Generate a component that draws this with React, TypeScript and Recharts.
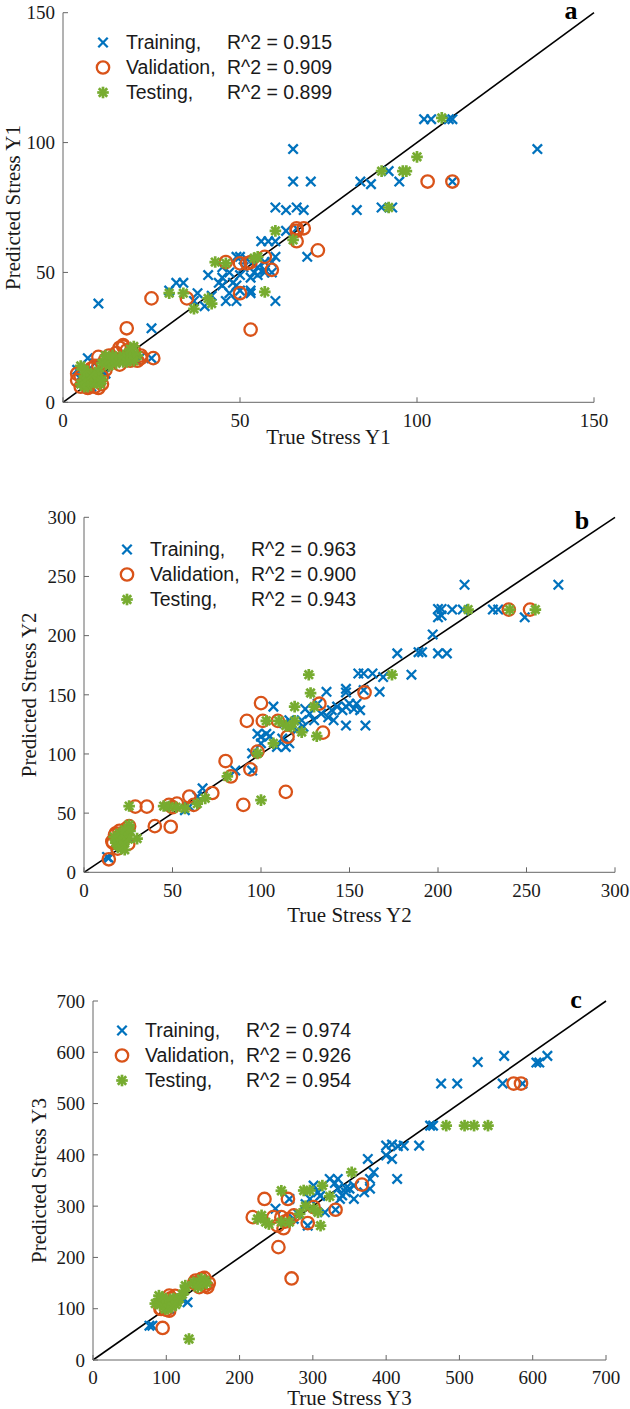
import React from 'react';
import { ScatterChart, Scatter, XAxis, YAxis, ReferenceLine, Legend } from 'recharts';

type Pt = [number, number];

// ---- panel a (Y1) ----
const TRAIN_A: Pt[] = [
    [10, 38], [102, 109], [104, 109], [109, 109], [110, 109], [134, 97.5], [65, 97.5], [65, 85], [70, 85],
    [84, 85], [87, 84], [92, 89], [95, 85], [110, 85], [83, 74], [90, 75], [93, 75], [60, 75], [63, 74],
    [66, 75], [68, 74], [63, 66], [66, 67], [56, 62], [58, 62], [60, 62], [69, 56], [60, 56], [41, 49],
    [34, 46], [32, 46], [30, 43], [38, 42], [45, 48], [45, 45], [47, 42], [46, 39], [49, 39], [50, 43],
    [53, 42], [53, 43], [50, 49], [51, 52], [54, 50], [55, 52], [57, 54], [57, 51], [59, 54], [60, 39],
    [40, 37], [37, 39], [42, 41], [44, 46], [48, 46], [49, 45], [53, 48], [55, 49], [57, 50], [59, 50],
    [49, 56], [50, 56], [25, 28.5], [25, 17], [4, 12.5], [7, 17], [9, 15], [12, 11], [5, 9], [8, 6],
    [16, 17], [21, 16], [45, 52], [47, 50], [52, 55], [54, 53], [5, 10], [22, 17.5],
];
const VAL_A: Pt[] = [
    [103, 85], [110, 85], [72, 58.5], [66, 66], [66, 67], [68, 67], [66, 62], [57, 56], [59, 51], [46, 54],
    [50, 53.5], [52, 53.5], [53, 54], [50, 42], [53, 28], [35, 40], [25, 40], [18, 28.5], [17, 21.5],
    [25.5, 17], [22, 17], [12, 16.5], [14, 17], [8, 13], [12, 12.5], [5, 10], [6, 7.5], [9, 6], [4, 8.5],
    [10, 17.5], [19, 16], [7, 6], [16, 21], [4, 11], [5, 6], [7, 5.5], [10, 5.5], [11, 7], [11, 10],
    [10, 14], [13, 18], [15, 19], [18, 20], [20, 20], [22, 18], [16, 14.5], [21, 16], [17, 22], [9, 14],
];
const TEST_A: Pt[] = [
    [107, 109.5], [100, 94.5], [90, 89], [96, 89], [97, 89], [92, 75], [60, 66], [65, 62.5], [57, 42.5],
    [43, 54], [30, 42], [34, 42], [37, 36], [42, 38], [41, 40], [46, 53.5], [54, 55.5], [55, 56], [20, 21.5],
    [18.5, 19], [16, 17], [12, 16.5], [21, 18], [5, 14], [7, 6], [9, 9], [10.5, 7], [6, 10], [14, 16],
    [8, 8], [10, 12], [13, 14], [17, 15.5], [19, 18], [6, 6], [8, 7.5], [5, 7], [6, 8.5], [7, 9.5],
    [9, 7.5], [10, 9.5], [9, 11], [7, 11.5], [6, 12.5], [11, 8.5], [8, 10.5], [11, 15], [12, 18],
    [13, 16], [14, 18], [15, 17], [16, 16], [17, 18], [18, 17], [20, 18.5], [15, 15], [18, 15.5],
    [20, 16], [19, 20.5],
];
const TICKS_A = [0, 50, 100, 150];
const R2_A = ['0.915', '0.909', '0.899'];

// ---- panel b (Y2) ----
const TRAIN_B: Pt[] = [
    [215, 243], [268, 243], [200, 222.5], [202, 222.5], [208, 222], [214, 222], [231, 222], [234, 222],
    [200, 215.5], [202, 217], [249, 215.5], [197, 201], [177, 185], [189, 186], [191, 186], [200, 185],
    [205, 185], [185, 167], [169, 165], [155, 168], [158, 168], [163, 168], [148, 152], [148, 155],
    [167, 152.5], [158, 154], [137, 152.5], [107, 140], [141, 128.5], [138, 131], [148, 124], [159, 124],
    [143, 140], [146, 137], [150, 142.5], [152.5, 138], [156, 137], [154, 142.5], [148, 140], [134, 134],
    [130, 128.5], [127.5, 134], [125, 138], [132, 142.5], [123, 128.5], [124, 123], [116, 128.5], [113, 126],
    [98, 117], [100, 114.5], [103, 117], [112, 113], [114, 106], [116, 109], [109, 106], [100, 109],
    [95, 100.5], [95, 86], [85.5, 86], [67, 71], [64, 64], [59.5, 55.5], [57, 52.5], [14, 12], [13, 13],
    [21, 24.5], [25, 30], [105, 115], [120, 120], [140, 137], [18, 22], [22, 27],
];
const VAL_B: Pt[] = [
    [252, 222], [240, 222], [158.5, 152], [133, 142.5], [100, 143], [92, 128], [101, 128], [109.5, 128],
    [115, 114.5], [135, 118], [98, 102], [80, 94], [94, 87], [83, 81], [114, 68], [90, 57], [72.5, 67],
    [59.5, 64], [52.5, 58], [48, 57], [62, 57], [35.5, 55.5], [29, 55.5], [49, 38.5], [40, 39], [25.5, 39],
    [17.5, 31.5], [16.5, 25], [14, 11], [50, 55], [20, 30], [16, 26], [18, 33], [20, 35], [22, 27],
    [25, 24], [19, 20], [24, 37],
];
const TEST_B: Pt[] = [
    [217, 222], [240.5, 222], [255, 222], [174, 167], [127, 167], [128, 151.5], [119, 140], [130, 140],
    [103, 128], [119, 128], [117, 123], [123, 118.5], [114, 124], [131.5, 115], [107, 109], [98, 100.5],
    [81, 81], [100, 61], [68.5, 62.5], [64, 58], [48, 55.5], [57, 54], [25.5, 56], [25.5, 40], [30, 28.5],
    [22, 24.5], [18.5, 26], [21, 30], [23, 19], [110, 128], [45, 56], [52, 55], [20, 22], [24, 34],
    [18, 25], [20, 28], [22, 30], [24, 32], [19, 23], [21, 20], [23, 26], [25, 28], [26, 35], [17, 30],
    [20, 33], [23, 36],
];
const TICKS_B = [0, 50, 100, 150, 200, 250, 300];
const R2_B = ['0.963', '0.900', '0.943'];

// ---- panel c (Y3) ----
const TRAIN_C: Pt[] = [
    [561, 593], [620, 593], [525, 581], [605, 580], [609, 580], [475, 539], [497, 539], [559, 539], [586, 539],
    [460, 457], [464, 457], [445, 418], [424, 418], [416, 417], [400, 418], [408, 420], [400, 399], [408, 392],
    [415, 353], [375, 392], [383, 366], [378, 353], [378, 334], [370, 327], [356, 314], [350, 334], [356, 340],
    [345, 327], [340, 321], [337, 314], [334, 334], [323, 353], [334, 353], [316.5, 288], [331, 293],
    [301, 340], [307, 327], [296, 314], [290, 304], [268, 314], [249, 295], [293, 262], [274, 275], [263, 269],
    [115, 119], [129, 112.5], [77, 67], [81, 67], [104, 99.5], [330, 345], [345, 335], [310, 320], [280, 285],
    [120, 120], [100, 110],
];
const VAL_C: Pt[] = [
    [574, 539], [584, 539], [367, 342], [331, 293], [266, 314], [234, 314], [218, 278.5], [246, 278.5],
    [257, 278.5], [252, 262], [260, 257], [268, 275], [274, 282], [293, 267], [301, 298], [253, 220],
    [271, 159], [95, 62.5], [93, 99.5], [101, 109], [104, 125.5], [140, 155], [148, 158], [153, 145],
    [145, 142], [104, 96], [262, 270], [92, 100], [100, 98], [106, 120], [112, 125], [98, 112],
    [138, 150], [152, 160], [158, 150], [156, 142],
];
const TEST_C: Pt[] = [
    [482, 457], [507, 457], [520, 457], [539, 457], [353, 366], [313, 340], [257, 330], [287.5, 330.5],
    [296, 330.5], [323, 319], [301, 295], [307, 288], [282, 285], [310.5, 262], [224.5, 275], [230, 282],
    [235.5, 269], [257, 269], [268, 269], [131, 41], [90, 125.5], [88, 112.5], [98.5, 99.5], [115, 112.5],
    [126, 145], [137, 151.5], [148, 158], [153, 155], [240, 265], [290, 300], [100, 115], [110, 120], [85, 110],
    [92, 108], [96, 104], [105, 118], [113, 108], [118, 120], [122, 128], [125, 135], [95, 122], [102, 100],
    [108, 104], [140, 148], [145, 152], [150, 148], [155, 150], [143, 142],
];
const TICKS_C = [0, 100, 200, 300, 400, 500, 600, 700];
const R2_C = ['0.974', '0.926', '0.954'];

const SERIES_NAMES = ['Training,', 'Validation,', 'Testing,'];

const BLUE = '#0072BD';
const ORANGE = '#D95319';
const GREEN = '#77AC30';
const SERIF = '"Liberation Serif", "Times New Roman", serif';
const SANS = '"Liberation Sans", Arial, sans-serif';

const toPoints = (pts: Pt[]) => pts.map(([x, y]) => ({ x, y }));

function Cross({ cx, cy }: { cx: number; cy: number }) {
    const s = 4.7;
    return (
        <g stroke={BLUE} strokeWidth={2.3}>
            <line x1={cx - s} y1={cy - s} x2={cx + s} y2={cy + s} />
            <line x1={cx - s} y1={cy + s} x2={cx + s} y2={cy - s} />
        </g>
    );
}

function Ring({ cx, cy }: { cx: number; cy: number }) {
    return <circle cx={cx} cy={cy} r={6.2} fill="none" stroke={ORANGE} strokeWidth={2.3} />;
}

function Star({ cx, cy }: { cx: number; cy: number }) {
    const s = 5.8;
    const d = 4.2;
    return (
        <g stroke={GREEN} strokeWidth={2.7}>
            <line x1={cx - s} y1={cy} x2={cx + s} y2={cy} />
            <line x1={cx} y1={cy - s} x2={cx} y2={cy + s} />
            <line x1={cx - d} y1={cy - d} x2={cx + d} y2={cy + d} />
            <line x1={cx - d} y1={cy + d} x2={cx + d} y2={cy - d} />
        </g>
    );
}

const MARKS = [Cross, Ring, Star];

function LegendBox({ r2 }: { r2: string[] }) {
    return (
        <div style={{ fontFamily: SANS, fontSize: 19.5, color: '#1a1a1a' }}>
            {SERIES_NAMES.map((name, i) => {
                const Mark = MARKS[i];
                return (
                    <div key={name} style={{ display: 'flex', alignItems: 'center', height: 25, whiteSpace: 'nowrap' }}>
                        <svg width={31} height={25} style={{ flex: 'none' }}>
                            <Mark cx={8} cy={12.5} />
                        </svg>
                        <span style={{ display: 'inline-block', width: 101 }}>{name}</span>
                        <span>R^2 = {r2[i]}</span>
                    </div>
                );
            })}
        </div>
    );
}

type PanelProps = {
    top: number;
    height: number;
    yAxisWidth: number;
    marginTop: number;
    marginRight: number;
    xAxisHeight: number;
    max: number;
    ticks: number[];
    train: Pt[];
    val: Pt[];
    test: Pt[];
    r2: string[];
    xTitle: string;
    yTitle: string;
    xTitleY: number;
    yTitleX: number;
    letter: string;
    letterX: number;
    letterY: number;
    legendLeft: number;
    legendTop: number;
};

function Panel(p: PanelProps) {
    const plotTop = p.marginTop;
    const plotBottom = p.height - p.xAxisHeight;
    const plotMidY = (plotTop + plotBottom) / 2;
    const plotMidX = (p.yAxisWidth + 630 - p.marginRight) / 2;
    const tickStyle = { fontSize: 19, fontFamily: SERIF, fill: '#1a1a1a' };
    const axisLine = { stroke: '#666', strokeWidth: 1 };

    return (
        <div style={{ position: 'absolute', left: 0, top: p.top, width: 630, height: p.height }}>
            <ScatterChart
                width={630}
                height={p.height}
                margin={{ top: p.marginTop, right: p.marginRight, left: 0, bottom: 0 }}
            >
                <XAxis
                    type="number"
                    dataKey="x"
                    domain={[0, p.max]}
                    ticks={p.ticks}
                    interval={0}
                    height={p.xAxisHeight}
                    allowDataOverflow
                    axisLine={axisLine}
                    tickLine={axisLine}
                    tickSize={-5}
                    tickMargin={16}
                    tick={tickStyle}
                    label={{
                        content: () => (
                            <text x={plotMidX} y={p.xTitleY} textAnchor="middle" fontFamily={SERIF} fontSize={21} fill="#1a1a1a">
                                {p.xTitle}
                            </text>
                        ),
                    }}
                />
                <YAxis
                    type="number"
                    dataKey="y"
                    domain={[0, p.max]}
                    ticks={p.ticks}
                    interval={0}
                    width={p.yAxisWidth}
                    allowDataOverflow
                    axisLine={axisLine}
                    tickLine={axisLine}
                    tickSize={-5}
                    tickMargin={13}
                    tick={tickStyle}
                    label={{
                        content: () => (
                            <text
                                x={p.yTitleX}
                                y={plotMidY}
                                transform={`rotate(-90 ${p.yTitleX} ${plotMidY})`}
                                textAnchor="middle"
                                fontFamily={SERIF}
                                fontSize={21}
                                fill="#1a1a1a"
                            >
                                {p.yTitle}
                            </text>
                        ),
                    }}
                />
                <Scatter
                    name="Training"
                    data={toPoints(p.train)}
                    isAnimationActive={false}
                    shape={(s: any) => <Cross cx={s.cx} cy={s.cy} />}
                />
                <Scatter
                    name="Validation"
                    data={toPoints(p.val)}
                    isAnimationActive={false}
                    shape={(s: any) => <Ring cx={s.cx} cy={s.cy} />}
                />
                <Scatter
                    name="Testing"
                    data={toPoints(p.test)}
                    isAnimationActive={false}
                    shape={(s: any) => <Star cx={s.cx} cy={s.cy} />}
                />
                <ReferenceLine
                    segment={[{ x: 0, y: 0 }, { x: p.max, y: p.max }]}
                    stroke="#000"
                    strokeWidth={1.6}
                    ifOverflow="visible"
                />
                <Legend
                    layout="vertical"
                    align="center"
                    verticalAlign="middle"
                    wrapperStyle={{ left: p.legendLeft, top: p.legendTop, width: 'auto', height: 'auto' }}
                    content={() => <LegendBox r2={p.r2} />}
                />
            </ScatterChart>
            <svg width={630} height={p.height} style={{ position: 'absolute', left: 0, top: 0, pointerEvents: 'none' }}>
                <text x={p.letterX} y={p.letterY} textAnchor="middle" fontFamily={SERIF} fontWeight="bold" fontSize={26} fill="#000">
                    {p.letter}
                </text>
            </svg>
        </div>
    );
}

export default function App() {
    return (
        <div style={{ position: 'absolute', left: 0, top: 0, width: 630, height: 1409, background: '#fff', overflow: 'hidden' }}>
            <Panel
                top={0} height={460} yAxisWidth={63} marginTop={12.7} marginRight={36} xAxisHeight={57.7}
                max={150} ticks={TICKS_A} train={TRAIN_A} val={VAL_A} test={TEST_A} r2={R2_A}
                xTitle="True Stress Y1" yTitle="Predicted Stress Y1" xTitleY={444} yTitleX={20}
                letter="a" letterX={571} letterY={19} legendLeft={95} legendTop={30}
            />
            <Panel
                top={490} height={440} yAxisWidth={84} marginTop={27.3} marginRight={15} xAxisHeight={57.7}
                max={300} ticks={TICKS_B} train={TRAIN_B} val={VAL_B} test={TEST_B} r2={R2_B}
                xTitle="True Stress Y2" yTitle="Predicted Stress Y2" xTitleY={432} yTitleX={36}
                letter="b" letterX={582} letterY={39} legendLeft={119} legendTop={47}
            />
            <Panel
                top={960} height={449} yAxisWidth={93} marginTop={41} marginRight={24} xAxisHeight={49}
                max={700} ticks={TICKS_C} train={TRAIN_C} val={VAL_C} test={TEST_C} r2={R2_C}
                xTitle="True Stress Y3" yTitle="Predicted Stress Y3" xTitleY={445} yTitleX={46}
                letter="c" letterX={576} letterY={48} legendLeft={114} legendTop={58}
            />
        </div>
    );
}
